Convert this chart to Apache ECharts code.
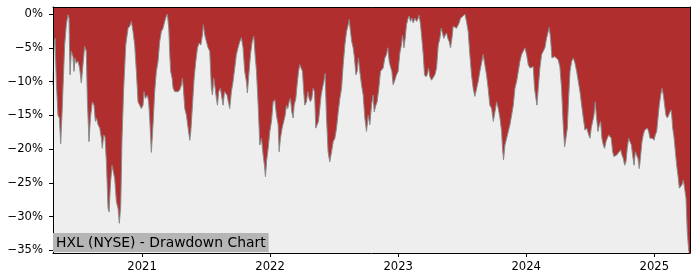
<!DOCTYPE html>
<html>
<head>
<meta charset="utf-8">
<script src="https://cdn.jsdelivr.net/npm/echarts@6/dist/echarts.min.js"></script>
<style>
html,body{margin:0;padding:0;background:#fff;}
#chart{width:700px;height:280px;}
</style>
</head>
<body>
<div id="chart"></div>
<script>
// Dates as decimal years
const dateYears = [
2020.305,2020.313,2020.321,2020.331,2020.344,2020.355,2020.365,2020.375,2020.383,2020.396,
2020.409,2020.422,2020.430,2020.438,2020.448,2020.461,2020.469,2020.477,2020.487,2020.500,
2020.513,2020.526,2020.539,2020.552,2020.565,2020.573,2020.586,2020.597,2020.612,2020.625,
2020.636,2020.644,2020.657,2020.670,2020.683,2020.690,2020.701,2020.711,2020.722,2020.735,
2020.743,2020.753,2020.766,2020.776,2020.787,2020.800,2020.813,2020.823,2020.834,2020.844,
2020.857,2020.873,2020.891,2020.904,2020.917,2020.930,2020.943,2020.956,2020.969,2020.982,
2020.995,2021.008,2021.016,2021.026,2021.042,2021.052,2021.060,2021.073,2021.086,2021.099,
2021.112,2021.125,2021.138,2021.151,2021.164,2021.177,2021.190,2021.198,2021.209,2021.217,
2021.224,2021.235,2021.243,2021.256,2021.269,2021.282,2021.295,2021.308,2021.315,2021.323,
2021.334,2021.347,2021.360,2021.373,2021.381,2021.394,2021.407,2021.420,2021.433,2021.446,
2021.459,2021.472,2021.479,2021.490,2021.503,2021.516,2021.529,
2021.542,2021.550,2021.560,2021.568,2021.581,2021.589,2021.599,2021.612,2021.623,2021.633,
2021.644,2021.654,2021.664,2021.675,2021.685,2021.698,2021.711,2021.724,2021.737,2021.750,
2021.763,2021.776,2021.789,2021.802,2021.815,2021.823,2021.836,2021.847,2021.860,2021.873,
2021.883,2021.894,2021.907,2021.920,2021.933,2021.946,2021.956,2021.964,2021.972,2021.985,
2021.998,2022.011,2022.024,2022.037,2022.050,2022.063,2022.071,2022.081,2022.094,2022.107,
2022.118,2022.128,2022.138,2022.149,2022.159,2022.170,2022.180,2022.188,2022.201,2022.211,
2022.222,2022.232,2022.243,2022.253,2022.263,2022.271,2022.284,2022.295,2022.305,2022.315,
2022.326,2022.336,2022.347,2022.357,2022.368,2022.378,2022.388,2022.399,2022.409,2022.420,
2022.430,2022.440,2022.453,2022.466,2022.480,2022.493,2022.506,2022.519,2022.532,2022.545,
2022.558,2022.571,2022.584,2022.597,2022.610,2022.618,2022.628,2022.638,2022.649,2022.659,
2022.670,2022.680,2022.690,2022.701,2022.714,2022.727,2022.740,2022.753,2022.766,2022.779,
2022.792,2022.805,2022.813,2022.826,2022.836,2022.849,2022.862,2022.873,2022.883,2022.896,
2022.909,2022.920,2022.930,2022.940,2022.951,2022.961,2022.974,2022.987,2023.000,2023.013,
2023.026,2023.034,2023.045,2023.055,2023.065,2023.078,2023.086,2023.097,2023.107,2023.118,
2023.131,2023.144,2023.157,2023.164,2023.175,2023.185,2023.196,2023.206,2023.217,2023.227,
2023.237,2023.248,2023.261,2023.274,2023.287,2023.300,2023.313,2023.326,2023.336,2023.347,
2023.357,2023.368,2023.378,2023.388,2023.399,2023.409,2023.420,2023.430,2023.443,2023.456,
2023.467,2023.477,2023.487,2023.498,2023.508,2023.521,2023.534,2023.547,2023.560,2023.573,
2023.586,2023.599,2023.612,2023.625,2023.638,2023.651,2023.664,2023.677,2023.690,2023.703,
2023.716,2023.730,2023.743,2023.756,2023.769,2023.782,2023.795,2023.808,2023.815,2023.823,
2023.834,2023.847,2023.860,2023.873,2023.886,2023.899,2023.912,2023.925,2023.938,2023.951,
2023.964,2023.977,2023.990,2024.003,2024.016,2024.029,
2024.042,2024.055,2024.065,2024.076,2024.084,2024.094,2024.107,2024.120,2024.133,2024.146,
2024.159,2024.172,2024.180,2024.190,2024.201,2024.211,2024.224,2024.237,2024.250,2024.263,
2024.276,2024.289,2024.300,2024.310,2024.321,2024.331,2024.342,2024.355,2024.368,2024.381,
2024.394,2024.407,2024.420,2024.433,2024.446,2024.459,2024.472,2024.485,2024.498,2024.508,
2024.519,2024.529,2024.539,2024.550,2024.560,2024.571,2024.581,2024.591,2024.602,2024.612,
2024.623,2024.633,2024.644,2024.654,2024.664,2024.675,2024.685,2024.696,2024.706,2024.716,
2024.727,2024.737,2024.748,2024.758,2024.769,2024.779,2024.789,2024.800,2024.810,2024.821,
2024.831,2024.842,2024.852,2024.862,2024.873,2024.883,2024.894,2024.904,2024.914,2024.925,
2024.935,2024.946,2024.956,2024.967,2024.977,2024.987,2024.998,2025.008,2025.019,2025.029,
2025.039,2025.050,2025.060,2025.071,2025.081,2025.091,2025.102,2025.112,2025.123,2025.133,
2025.144,2025.154,2025.164,2025.175,2025.185,2025.196,2025.206,2025.216,2025.227,2025.237,
2025.248,2025.258,2025.269
];

// Drawdown in percent
const drawdown = [
-10.5,-5.0,-3.6,-10.0,-15.0,-15.4,-19.2,-15.0,-11.0,-4.6,
-1.6,-0.1,-0.6,-9.0,-5.5,-6.3,-8.5,-6.5,-7.3,-7.0,
-8.0,-10.2,-7.5,-4.8,-5.5,-12.5,-18.9,-15.4,-13.0,-13.5,
-15.9,-15.4,-16.4,-16.9,-18.4,-19.9,-17.9,-18.2,-21.9,-28.8,
-29.3,-25.3,-22.4,-22.4,-24.4,-27.8,-28.8,-31.0,-28.3,-18.4,
-11.0,-4.6,-2.1,-1.8,-1.1,-2.6,-4.6,-8.5,-13.0,-13.5,
-14.0,-13.5,-11.5,-12.5,-12.0,-13.0,-15.4,-20.5,-16.4,-11.5,
-8.5,-7.0,-4.1,-2.6,-2.1,-1.1,-0.3,0.0,-2.1,-6.0,
-8.5,-9.5,-11.0,-11.5,-11.7,-11.5,-11.2,-10.5,-9.5,-11.0,
-14.0,-15.0,-16.9,-18.7,-17.4,-13.5,-9.5,-7.0,-5.0,-4.3,
-4.6,-3.1,-1.6,-3.1,-4.1,-5.0,-5.5,
-11.0,-12.0,-9.5,-10.5,-12.5,-13.5,-11.5,-11.0,-11.0,-13.5,
-11.5,-11.5,-12.0,-12.0,-14.0,-11.5,-10.0,-8.0,-6.0,-5.0,
-4.1,-3.5,-5.0,-8.5,-10.0,-11.7,-8.5,-6.0,-4.1,-3.3,
-6.0,-8.5,-13.5,-19.4,-18.4,-20.9,-22.4,-24.1,-21.9,-19.9,
-17.4,-15.9,-13.0,-12.7,-15.0,-16.4,-20.4,-18.4,-16.9,-15.9,
-15.0,-13.5,-14.0,-13.0,-12.5,-14.5,-15.4,-13.5,-12.5,-10.5,
-8.5,-7.5,-7.3,-8.5,-11.5,-13.5,-13.0,-11.5,-12.5,-13.0,
-12.5,-11.0,-11.5,-16.9,-16.4,-15.9,-14.0,-12.0,-11.0,-10.0,
-8.8,-15.0,-20.4,-21.9,-20.4,-18.9,-18.4,-16.9,-14.5,-12.5,
-11.0,-7.5,-4.6,-2.6,-1.6,-0.8,-2.6,-4.1,-5.0,-6.5,
-9.0,-8.5,-6.5,-8.5,-10.5,-12.0,-15.4,-17.4,-15.0,-16.4,
-13.5,-12.0,-14.5,-13.5,-13.0,-11.0,-8.5,-8.3,-8.0,-6.5,
-6.0,-5.0,-7.0,-7.8,-8.5,-10.5,-9.8,-9.0,-8.5,-5.8,
-4.6,-3.1,-5.0,-3.6,-1.6,-0.6,-0.3,-1.1,-0.6,-1.3,
-0.6,-1.1,-0.6,-0.2,-1.6,-3.6,-6.0,-9.0,-9.3,-9.0,
-8.0,-9.3,-9.8,-10.0,-9.0,-8.0,-4.6,-3.6,-2.1,-2.3,
-3.6,-3.1,-2.8,-3.6,-4.1,-5.0,-3.6,-1.8,-1.8,-2.1,
-2.1,-1.3,-0.6,-0.6,-0.3,0.0,-1.1,-2.6,-6.0,-9.0,
-11.0,-12.2,-12.0,-10.0,-8.5,-7.3,-6.0,-7.5,-9.0,-11.0,
-13.5,-14.0,-15.9,-14.5,-13.0,-14.0,-15.4,-17.4,-19.9,-21.6,
-19.4,-18.4,-17.4,-16.4,-15.0,-13.5,-11.0,-10.0,-8.5,-7.0,
-6.0,-5.5,-5.0,-6.0,-7.5,-8.0,
-8.0,-7.8,-11.0,-12.5,-13.5,-11.0,-8.0,-6.0,-5.5,-5.0,
-3.6,-2.6,-2.0,-3.6,-6.5,-6.5,-6.3,-6.5,-6.8,-7.8,
-11.0,-16.4,-19.7,-18.4,-16.9,-12.5,-8.5,-7.0,-6.5,-7.3,
-8.5,-10.0,-11.5,-13.5,-15.4,-17.2,-16.9,-17.7,-18.4,-16.9,
-15.9,-15.0,-13.0,-15.4,-17.4,-16.4,-15.9,-18.4,-19.4,-19.9,
-18.9,-18.4,-17.9,-17.7,-18.4,-20.4,-21.1,-21.1,-20.9,-21.1,
-20.4,-20.1,-20.9,-21.4,-22.4,-21.9,-19.9,-18.4,-18.4,-19.4,
-20.9,-22.4,-20.4,-20.9,-21.4,-22.9,-20.9,-18.9,-17.9,-17.2,
-17.4,-16.9,-17.4,-18.4,-18.2,-18.4,-18.7,-17.9,-17.4,-15.4,
-13.5,-12.0,-11.0,-12.0,-13.5,-15.0,-15.4,-15.0,-14.5,-14.2,
-16.9,-18.2,-18.4,-22.4,-23.9,-25.8,-25.8,-25.3,-24.6,-25.8,
-27.3,-32.3,-35.1
];

const yTicks = [0, -5, -10, -15, -20, -25, -30, -35];
const xTickYears = [2021, 2022, 2023, 2024, 2025];
const xRangeYears = [2020.305, 2025.279];
const yRange = [-35.4, 1.04];
const titleText = 'HXL (NYSE) - Drawdown Chart';

const seriesData = dateYears.map((y, i) => [y, drawdown[i]]);

const FONT = 'DejaVu Sans';
const chart = echarts.init(document.getElementById('chart'), null, {renderer: 'canvas'});
chart.setOption({
  animation: false,
  backgroundColor: '#ffffff',
  grid: {
    left: 53, right: 10, top: 7, bottom: 27,
    show: true, backgroundColor: '#b02e2e', borderWidth: 0
  },
  title: {
    text: titleText,
    left: 53, top: 233,
    padding: [3, 3, 2, 3],
    backgroundColor: '#b5b5b5',
    textStyle: {fontFamily: FONT, fontSize: 13.9, fontWeight: 'normal', color: '#000'}
  },
  xAxis: [{
    type: 'value', min: xRangeYears[0], max: xRangeYears[1], z: 5,
    axisLine: {show: true, onZero: false, lineStyle: {color: '#000', width: 1}},
    axisTick: {show: true, length: 4, lineStyle: {color: '#000'}, customValues: xTickYears},
    axisLabel: {
      customValues: xTickYears, margin: 8, color: '#000', fontFamily: FONT, fontSize: 11.6,
      formatter: v => String(Math.round(v))
    },
    splitLine: {show: false}
  }, {
    type: 'value', min: xRangeYears[0], max: xRangeYears[1], position: 'top', z: 5,
    axisLine: {show: true, onZero: false, lineStyle: {color: '#000', width: 1}},
    axisTick: {show: false}, axisLabel: {show: false}, splitLine: {show: false}
  }],
  yAxis: [{
    type: 'value', min: yRange[0], max: yRange[1], z: 5,
    axisLine: {show: true, onZero: false, lineStyle: {color: '#000', width: 1}},
    axisTick: {show: true, length: 4, lineStyle: {color: '#000'}, customValues: yTicks},
    axisLabel: {
      customValues: yTicks, margin: 10, color: '#000', fontFamily: FONT, fontSize: 11.6,
      formatter: v => (v < 0 ? '\u2212' : '') + Math.abs(Math.round(v)) + '%'
    },
    splitLine: {show: false}
  }, {
    type: 'value', min: yRange[0], max: yRange[1], position: 'right', z: 5,
    axisLine: {show: true, onZero: false, lineStyle: {color: '#000', width: 1}},
    axisTick: {show: false}, axisLabel: {show: false}, splitLine: {show: false}
  }],
  series: [{
    type: 'line',
    data: seriesData,
    xAxisIndex: 0, yAxisIndex: 0,
    showSymbol: false,
    lineStyle: {color: '#8a8a8a', width: 1},
    areaStyle: {color: '#eeeeee', origin: 'start', opacity: 1}
  }]
});
</script>
</body>
</html>
